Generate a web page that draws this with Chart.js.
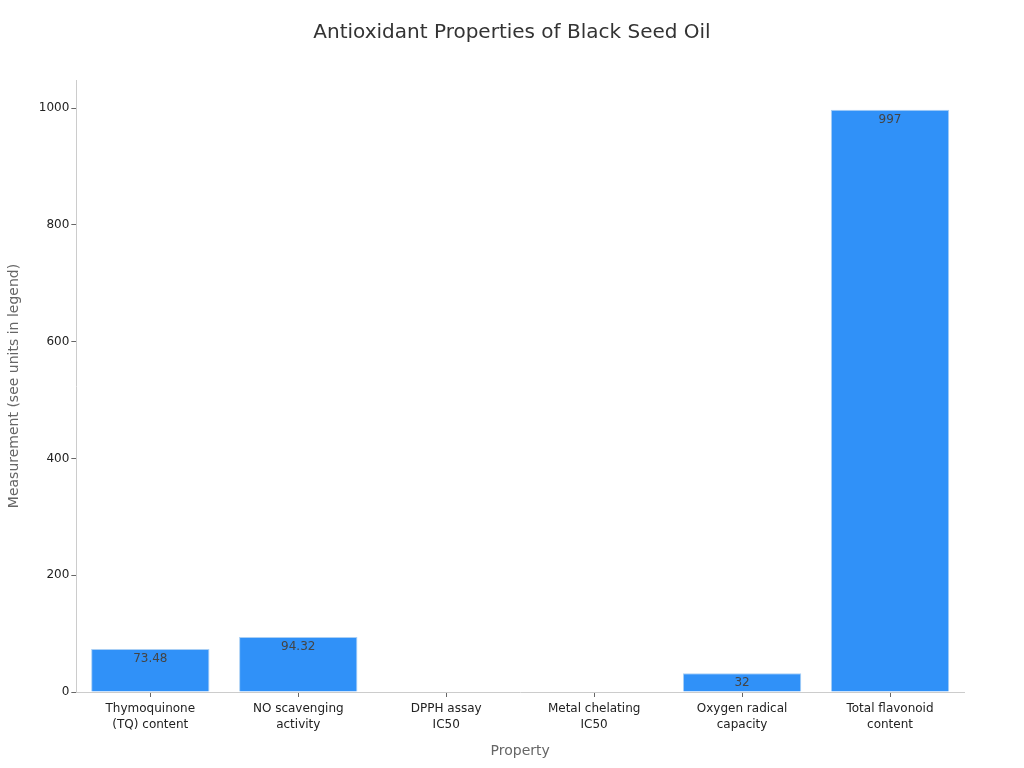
<!DOCTYPE html>
<html>
<head>
<meta charset="utf-8">
<script src="https://cdn.jsdelivr.net/npm/chart.js@4.4.0/dist/chart.umd.min.js"></script>
<style>
  html, body { margin: 0; padding: 0; background: #fff; }
  #wrap { width: 1024px; height: 768px; }
</style>
</head>
<body>
<div id="wrap"><canvas id="myChart" width="1024" height="768"></canvas></div>
<script>
var chartTitle = "Antioxidant Properties of Black Seed Oil";
var properties = [
  ["Thymoquinone", "(TQ) content"],
  ["NO scavenging", "activity"],
  ["DPPH assay", "IC50"],
  ["Metal chelating", "IC50"],
  ["Oxygen radical", "capacity"],
  ["Total flavonoid", "content"]
];
var measurements = [73.48, 94.32, null, null, 32, 997];
var yTicks = [0, 200, 400, 600, 800, 1000];

// value labels inside the top of each bar, plus a title centred on the page
var barLabels = {
  id: "barLabels",
  afterDatasetsDraw: function (chart) {
    var ctx = chart.ctx;
    var meta = chart.getDatasetMeta(0);
    ctx.save();
    ctx.font = "12px 'DejaVu Sans'";
    ctx.fillStyle = "#444444";
    ctx.textAlign = "center";
    ctx.textBaseline = "top";
    meta.data.forEach(function (bar, i) {
      var v = measurements[i];
      if (v === null) return;
      ctx.fillText(String(v), bar.x, bar.y + 4);
    });
    ctx.font = "20px 'DejaVu Sans'";
    ctx.fillStyle = "#333333";
    ctx.textBaseline = "middle";
    ctx.fillText(chartTitle, chart.width / 2, 33);
    ctx.restore();
  }
};

var chart = new Chart("myChart", {
  type: "bar",
  data: {
    labels: properties,
    datasets: [{
      label: "Measurement",
      data: measurements,
      backgroundColor: "#3091f8",
      borderColor: "#a9cff5",
      borderWidth: 1,
      barPercentage: 0.8,
      categoryPercentage: 1.0
    }]
  },
  plugins: [barLabels],
  options: {
    responsive: false,
    animation: false,
    layout: { padding: { left: 2, right: 60, top: 80, bottom: 4 } },
    plugins: {
      legend: { display: false },
      tooltip: { enabled: false },
      title: { display: false }
    },
    scales: {
      x: {
        grid: { display: true, offset: false, drawOnChartArea: false, drawTicks: true, tickLength: 5, color: "#666666" },
        border: { display: true, color: "#cccccc" },
        ticks: { color: "#222222", padding: 4, font: { family: "'DejaVu Sans'", size: 12, lineHeight: 1.3 }, maxRotation: 0 },
        title: {
          display: true, text: "Property", color: "#666666",
          font: { family: "'DejaVu Sans'", size: 14 }, padding: { top: 7 }
        }
      },
      y: {
        min: 0,
        max: 1048,
        afterBuildTicks: function (axis) {
          axis.ticks = yTicks.map(function (v) { return { value: v }; });
        },
        grid: { display: true, drawOnChartArea: false, drawTicks: true, tickLength: 5, color: "#666666" },
        border: { display: true, color: "#cccccc" },
        ticks: {
          color: "#222222", padding: 2, font: { family: "'DejaVu Sans'", size: 12 },
          callback: function (v) { return String(v); }
        },
        title: {
          display: true, text: "Measurement (see units in legend)", color: "#666666",
          font: { family: "'DejaVu Sans'", size: 14 }, padding: { bottom: 14 }
        }
      }
    }
  }
});
</script>
</body>
</html>
